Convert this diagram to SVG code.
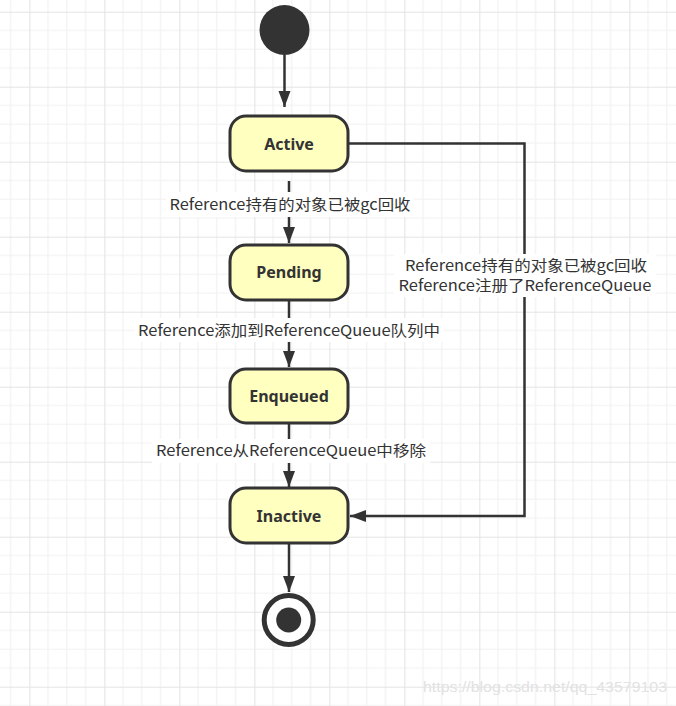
<svg xmlns="http://www.w3.org/2000/svg" width="676" height="706" viewBox="0 0 676 706">
<defs>
<pattern id="grid" patternUnits="userSpaceOnUse" x="29.3" y="11.7" width="75" height="75">
<path d="M18.75 0V75M37.5 0V75M56.25 0V75M0 18.75H75M0 37.5H75M0 56.25H75" stroke="#f1f1f1" stroke-width="1.2" fill="none"/>
<path d="M0.5 0V75M0 0.5H75" stroke="#e4e4e4" stroke-width="1.2" fill="none"/>
</pattern>
<marker id="arr" markerUnits="userSpaceOnUse" markerWidth="18" markerHeight="14" refX="16" refY="6" orient="auto">
<path d="M0 0L16 6L0 12Z" fill="#333"/>
</marker>
<style>
.box{fill:#ffffc0;stroke:#333;stroke-width:3}
.nt{font-family:"Noto Sans","Noto Sans CJK SC",sans-serif;font-weight:bold;font-size:16px;fill:#333;text-anchor:middle}
.lb{font-family:"Noto Sans CJK SC","Noto Sans",sans-serif;font-size:15px;fill:#333;text-anchor:middle}
.ln{fill:none;stroke:#333;stroke-width:2.5}
.bg{fill:#fff}
</style>
</defs>
<rect width="676" height="706" fill="#fff"/>
<rect width="676" height="706" fill="url(#grid)"/>
<g id="connectors">
<path class="ln" d="M284.5 55V107" marker-end="url(#arr)"/>
<path class="ln" d="M289 181V243" marker-end="url(#arr)"/>
<path class="ln" d="M289 300V367" marker-end="url(#arr)"/>
<path class="ln" d="M289 423V487" marker-end="url(#arr)"/>
<path class="ln" d="M289 543V592" marker-end="url(#arr)"/>
<path class="ln" d="M348 143.5H524.5V516H350" marker-end="url(#arr)"/>
<rect class="bg" x="166" y="192" width="248" height="25"/>
<text class="lb" x="290" y="210" textLength="241" lengthAdjust="spacingAndGlyphs">Reference持有的对象已被gc回收</text>
<rect class="bg" x="135" y="318" width="309" height="24"/>
<text class="lb" x="289" y="336" textLength="302" lengthAdjust="spacingAndGlyphs">Reference添加到ReferenceQueue队列中</text>
<rect class="bg" x="152" y="439" width="278" height="24"/>
<text class="lb" x="291" y="456" textLength="270" lengthAdjust="spacingAndGlyphs">Reference从ReferenceQueue中移除</text>
<rect class="bg" x="394" y="254" width="262" height="43"/>
<text class="lb" x="526" y="271" textLength="242" lengthAdjust="spacingAndGlyphs">Reference持有的对象已被gc回收</text>
<text class="lb" x="525" y="291" textLength="253" lengthAdjust="spacingAndGlyphs">Reference注册了ReferenceQueue</text>
</g>
<g id="start"><circle cx="284.5" cy="30" r="25" fill="#333"/></g>
<g id="active"><rect class="box" x="230" y="116" width="118" height="55" rx="16"/><text class="nt" x="289" y="150">Active</text></g>
<g id="pending"><rect class="box" x="230" y="245" width="118" height="55" rx="16"/><text class="nt" x="289" y="277.5">Pending</text></g>
<g id="enqueued"><rect class="box" x="230" y="369" width="118" height="54" rx="16"/><text class="nt" x="289" y="402">Enqueued</text></g>
<g id="inactive"><rect class="box" x="230" y="488" width="118" height="55" rx="16"/><text class="nt" x="289" y="521.5">Inactive</text></g>
<g id="end"><circle cx="288.7" cy="620" r="24.5" fill="#fff" stroke="#333" stroke-width="5"/><circle cx="288.7" cy="620" r="12.5" fill="#333"/></g>
<text x="545" y="692" font-family="Liberation Sans,Arial,sans-serif" font-size="15" fill="#e2e2e2" text-anchor="middle" textLength="244" lengthAdjust="spacingAndGlyphs">https://blog.csdn.net/qq_43579103</text>
</svg>
